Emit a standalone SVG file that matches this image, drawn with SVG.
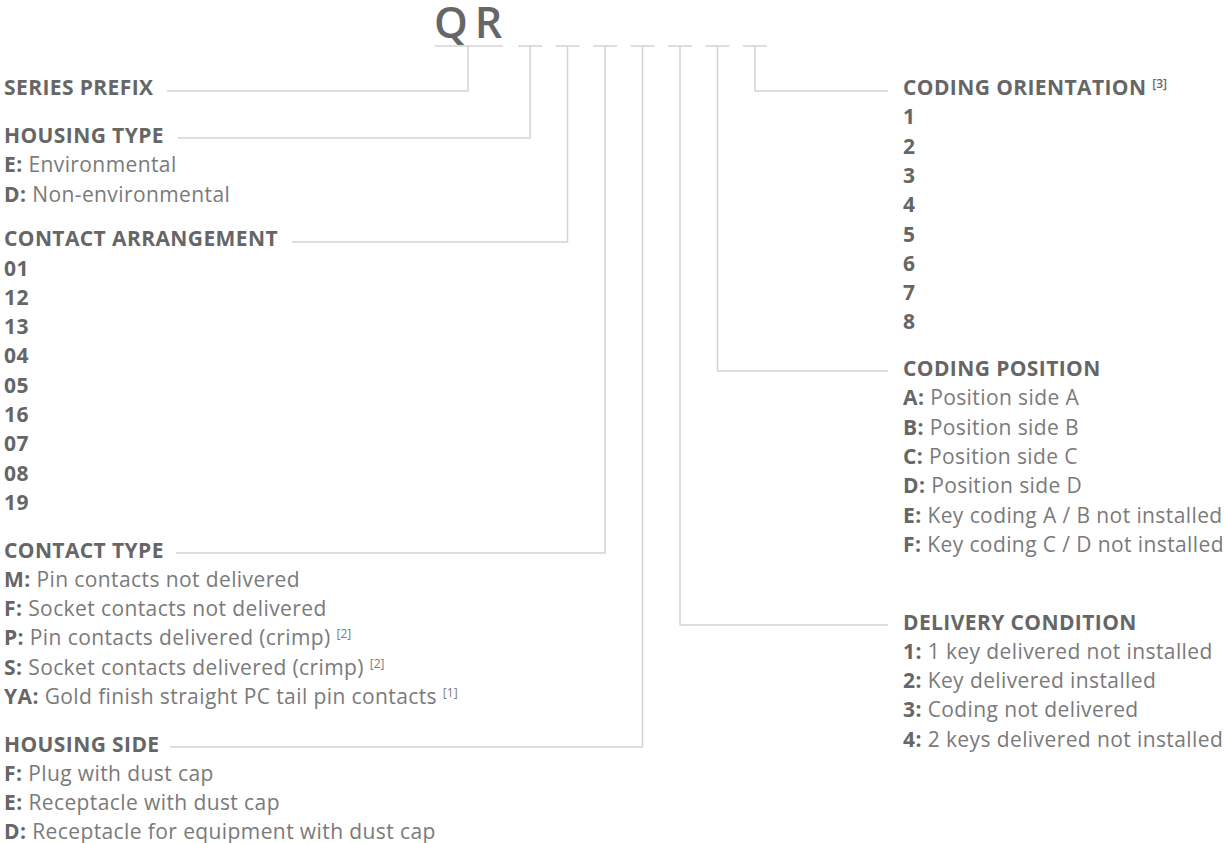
<svg xmlns="http://www.w3.org/2000/svg" width="1225" height="843" viewBox="0 0 1225 843">
<style>
text{font-family:"Open Sans","Noto Sans","Liberation Sans",sans-serif;font-size:21px;letter-spacing:0.4px;fill:#7a7a7a}
.h{font-weight:700;fill:#666}
.b{font-weight:700;fill:#666}
.sup{font-size:12px;letter-spacing:0;fill:#7a7a7a}
.hs{font-size:12px;letter-spacing:0;font-weight:600;fill:#666}
.ln{fill:none;stroke:#d4d4d4;stroke-width:1.5}
.title{font-size:43px;font-weight:600;fill:#666;letter-spacing:5px}
</style>
<rect width="1225" height="843" fill="#fff"/>
<g id="title">
<text class="title" x="434" y="38">Q<tspan dx="2">R</tspan></text>
</g>
<g id="connectors">
<path class="ln" d="M435 46H503M518 46H542M555.5 46H579.5M593 46H617M630.5 46H654.5M668 46H692M705.5 46H729.5M743 46H767"/>
<path class="ln" d="M468 46V91H167"/>
<path class="ln" d="M530 46V138H178"/>
<path class="ln" d="M567.5 46V242H292"/>
<path class="ln" d="M605 46V553H176"/>
<path class="ln" d="M642.5 46V747H170"/>
<path class="ln" d="M680 46V625H888"/>
<path class="ln" d="M717.5 46V371H888"/>
<path class="ln" d="M755 46V91H888"/>
</g>
<g id="series-prefix">
<text class="h" x="4" y="95">SERIES PREFIX</text>
</g>
<g id="housing-type">
<text class="h" x="4" y="143">HOUSING TYPE</text>
<text x="4" y="172.3"><tspan class="b">E:</tspan> Environmental</text>
<text x="4" y="201.6"><tspan class="b">D:</tspan> Non-environmental</text>
</g>
<g id="contact-arrangement">
<text class="h" x="4" y="246">CONTACT ARRANGEMENT</text>
<text class="b" x="4" y="275.5">01</text>
<text class="b" x="4" y="304.8">12</text>
<text class="b" x="4" y="334.1">13</text>
<text class="b" x="4" y="363.4">04</text>
<text class="b" x="4" y="392.7">05</text>
<text class="b" x="4" y="422">16</text>
<text class="b" x="4" y="451.3">07</text>
<text class="b" x="4" y="480.6">08</text>
<text class="b" x="4" y="509.9">19</text>
</g>
<g id="contact-type">
<text class="h" x="4" y="557.5">CONTACT TYPE</text>
<text x="4" y="586.8"><tspan class="b">M:</tspan> Pin contacts not delivered</text>
<text x="4" y="616.1"><tspan class="b">F:</tspan> Socket contacts not delivered</text>
<text x="4" y="645.4"><tspan class="b">P:</tspan> Pin contacts delivered (crimp) <tspan class="sup" dy="-7">[2]</tspan></text>
<text x="4" y="674.7"><tspan class="b">S:</tspan> Socket contacts delivered (crimp) <tspan class="sup" dy="-7">[2]</tspan></text>
<text x="4" y="704"><tspan class="b">YA:</tspan> Gold finish straight PC tail pin contacts <tspan class="sup" dy="-7">[1]</tspan></text>
</g>
<g id="housing-side">
<text class="h" x="4" y="751.5">HOUSING SIDE</text>
<text x="4" y="780.8"><tspan class="b">F:</tspan> Plug with dust cap</text>
<text x="4" y="810.1"><tspan class="b">E:</tspan> Receptacle with dust cap</text>
<text x="4" y="839.4"><tspan class="b">D:</tspan> Receptacle for equipment with dust cap</text>
</g>
<g id="coding-orientation">
<text class="h" x="903" y="95">CODING ORIENTATION <tspan class="hs" dy="-7">[3]</tspan></text>
<text class="b" x="903" y="124.3">1</text>
<text class="b" x="903" y="153.6">2</text>
<text class="b" x="903" y="182.9">3</text>
<text class="b" x="903" y="212.2">4</text>
<text class="b" x="903" y="241.5">5</text>
<text class="b" x="903" y="270.8">6</text>
<text class="b" x="903" y="300.1">7</text>
<text class="b" x="903" y="329.4">8</text>
</g>
<g id="coding-position">
<text class="h" x="903" y="376">CODING POSITION</text>
<text x="903" y="405.3"><tspan class="b">A:</tspan> Position side A</text>
<text x="903" y="434.6"><tspan class="b">B:</tspan> Position side B</text>
<text x="903" y="463.9"><tspan class="b">C:</tspan> Position side C</text>
<text x="903" y="493.2"><tspan class="b">D:</tspan> Position side D</text>
<text x="903" y="522.5"><tspan class="b">E:</tspan> Key coding A / B not installed</text>
<text x="903" y="551.8"><tspan class="b">F:</tspan> Key coding C / D not installed</text>
</g>
<g id="delivery-condition">
<text class="h" x="903" y="629.5">DELIVERY CONDITION</text>
<text x="903" y="658.8"><tspan class="b">1:</tspan> 1 key delivered not installed</text>
<text x="903" y="688.1"><tspan class="b">2:</tspan> Key delivered installed</text>
<text x="903" y="717.4"><tspan class="b">3:</tspan> Coding not delivered</text>
<text x="903" y="746.7"><tspan class="b">4:</tspan> 2 keys delivered not installed</text>
</g>
</svg>
